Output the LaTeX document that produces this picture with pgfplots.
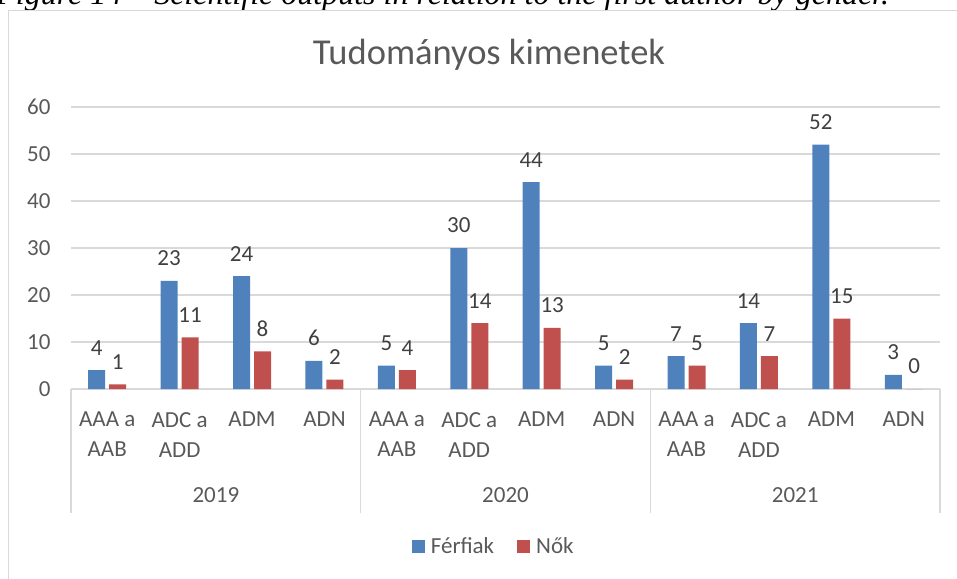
\documentclass[border=0pt]{standalone}
\usepackage{pgfplots}
\pgfplotsset{compat=1.18}
\usepackage{fontspec}
\setmainfont{Carlito}
\newfontfamily\capfont{Liberation Serif}
\definecolor{cblue}{HTML}{4F81BD}
\definecolor{cred}{HTML}{C0504D}
\definecolor{cgrid}{HTML}{D9D9D9}
\definecolor{ctext}{HTML}{595959}
\definecolor{clabel}{HTML}{404040}
\newcommand{\lbl}{\fontsize{11.5pt}{15pt}\selectfont}
\newcommand{\ttl}{\fontsize{18.25pt}{22pt}\selectfont}
\begin{document}
\begin{tikzpicture}
\useasboundingbox (0,0) rectangle (478.5pt,-289pt);
\begin{scope}
\clip (0,0) rectangle (478.5pt,-289pt);
\node[anchor=base west, font=\capfont\itshape\fontsize{16pt}{18pt}\selectfont, inner sep=0] at (-2pt,-2pt) {Figure 14 – Scientific outputs in relation to the first author by gender.};
\draw[cgrid, line width=0.8pt] (4.25pt,-5.25pt) rectangle (482pt,-295pt);
\end{scope}
\node[font=\ttl, text=ctext] at (244.5pt,-27.5pt) {Tudományos kimenetek};
\begin{axis}[
  at={(35.5pt,-194.5pt)}, anchor=south west,
  scale only axis, width=434.5pt, height=141pt,
  xmin=-0.5, xmax=11.5, ymin=0, ymax=60,
  /pgf/number format/assume math mode=true,
  ytick={0,10,...,60}, xtick={0,...,11},
  xticklabels={{AAA a\\AAB},{ADC a\\ADD},ADM,ADN,{AAA a\\AAB},{ADC a\\ADD},ADM,ADN,{AAA a\\AAB},{ADC a\\ADD},ADM,ADN},
  axis line style={draw=none}, major tick length=0pt,
  ymajorgrids, grid style={cgrid, line width=0.75pt},
  ticklabel style={font=\lbl, text=ctext},
  xticklabel style={align=center, yshift=-8pt},
  yticklabel style={xshift=-6.7pt},
  ybar, bar width=8.5pt,
  nodes near coords,
  nodes near coords style={font=\lbl, text=clabel, anchor=south, yshift=4pt},
  legend style={at={(0.487,-0.56)}, anchor=center, legend columns=2, draw=none, fill=none,
    font=\lbl, text=ctext, inner sep=0pt, nodes={inner sep=1.5pt},
    /tikz/every odd column/.append style={column sep=1.5pt},
    /tikz/every even column/.append style={column sep=10pt}},
  clip=false,
]
\addplot[fill=cblue, draw=none, bar shift=-5.25pt,
  legend image code/.code={\fill[cblue] (0pt,-3.25pt) rectangle (6.5pt,3.25pt);}]
  coordinates {(0,4) (1,23) (2,24) (3,6) (4,5) (5,30) (6,44) (7,5) (8,7) (9,14) (10,52) (11,3)};
\addlegendentry{Férfiak}
\addplot[fill=cred, draw=none, bar shift=5.25pt,
  legend image code/.code={\fill[cred] (0pt,-3.25pt) rectangle (6.5pt,3.25pt);}]
  coordinates {(0,1) (1,11) (2,8) (3,2) (4,4) (5,14) (6,13) (7,2) (8,5) (9,7) (10,15) (11,0)};
\addlegendentry{Nők}
\draw[cgrid, line width=0.75pt] (axis cs:-0.5,0) -- ++(0pt,-62pt);
\draw[cgrid, line width=0.75pt] (axis cs:3.5,0) -- ++(0pt,-62pt);
\draw[cgrid, line width=0.75pt] (axis cs:7.5,0) -- ++(0pt,-62pt);
\draw[cgrid, line width=0.75pt] (axis cs:11.5,0) -- ++(0pt,-62pt);
\node[font=\lbl, text=ctext, yshift=-53pt] at (axis cs:1.5,0) {2019};
\node[font=\lbl, text=ctext, yshift=-53pt] at (axis cs:5.5,0) {2020};
\node[font=\lbl, text=ctext, yshift=-53pt] at (axis cs:9.5,0) {2021};
\end{axis}
\end{tikzpicture}
\end{document}
